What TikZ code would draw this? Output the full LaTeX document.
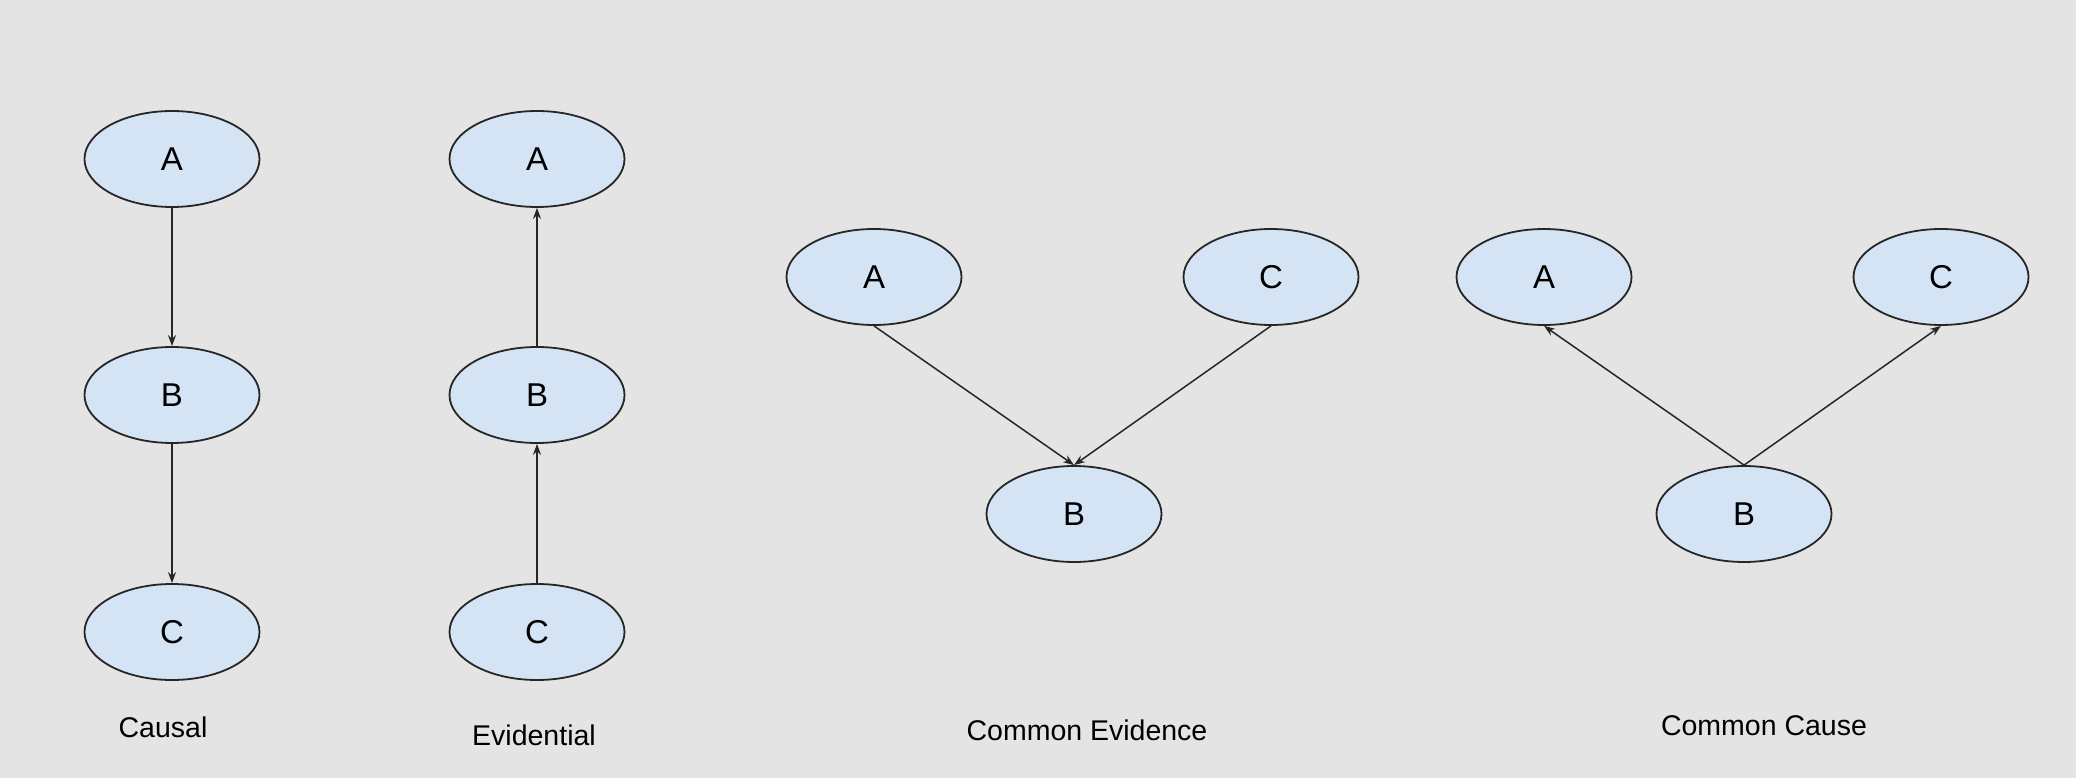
\documentclass[tikz,border=0pt]{standalone}
\usepackage{fontspec}
\setmainfont{Liberation Sans}
\usetikzlibrary{shapes.geometric,arrows.meta}
\definecolor{bgGray}{HTML}{E4E4E4}
\definecolor{nodeBlue}{HTML}{D5E4F4}
\definecolor{edgeGray}{HTML}{262626}
\tikzset{
	var/.style={ellipse,draw=edgeGray,line width=1.8pt,fill=nodeBlue,minimum width=175pt,minimum height=96pt,inner sep=0pt,font=\fontsize{33}{38}\selectfont},
	link/.style={line width=1.5pt,draw=edgeGray,-{Stealth[length=11pt,width=8pt]}},
	caption/.style={font=\fontsize{28.5}{32}\selectfont}
}
\begin{document}
\begin{tikzpicture}[x=1pt,y=-1pt]
	\fill[bgGray] (0,0) rectangle (2076,778);
	\useasboundingbox (0,0) rectangle (2076,778);
	\node[var] (ca) at (172,159) {A};
	\node[var] (cb) at (172,395) {B};
	\node[var] (cc) at (172,632) {C};
	\draw[link] (ca.south) -- (cb.north);
	\draw[link] (cb.south) -- (cc.north);
	\node[caption] (causal) at (163,727) {Causal};
	\node[var] (ea) at (537,159) {A};
	\node[var] (eb) at (537,395) {B};
	\node[var] (ec) at (537,632) {C};
	\draw[link] (ec.north) -- (eb.south);
	\draw[link] (eb.north) -- (ea.south);
	\node[caption] (evidential) at (534,735) {Evidential};
	\node[var] (cea) at (874,277) {A};
	\node[var] (cec) at (1271,277) {C};
	\node[var] (ceb) at (1074,514) {B};
	\draw[link] (cea.south) -- (ceb.north);
	\draw[link] (cec.south) -- (ceb.north);
	\node[caption] (comev) at (1087,730) {Common Evidence};
	\node[var] (cca) at (1544,277) {A};
	\node[var] (ccc) at (1941,277) {C};
	\node[var] (ccb) at (1744,514) {B};
	\draw[link] (ccb.north) -- (cca.south);
	\draw[link] (ccb.north) -- (ccc.south);
	\node[caption] (comca) at (1764,726) {Common Cause};
\end{tikzpicture}
\end{document}
